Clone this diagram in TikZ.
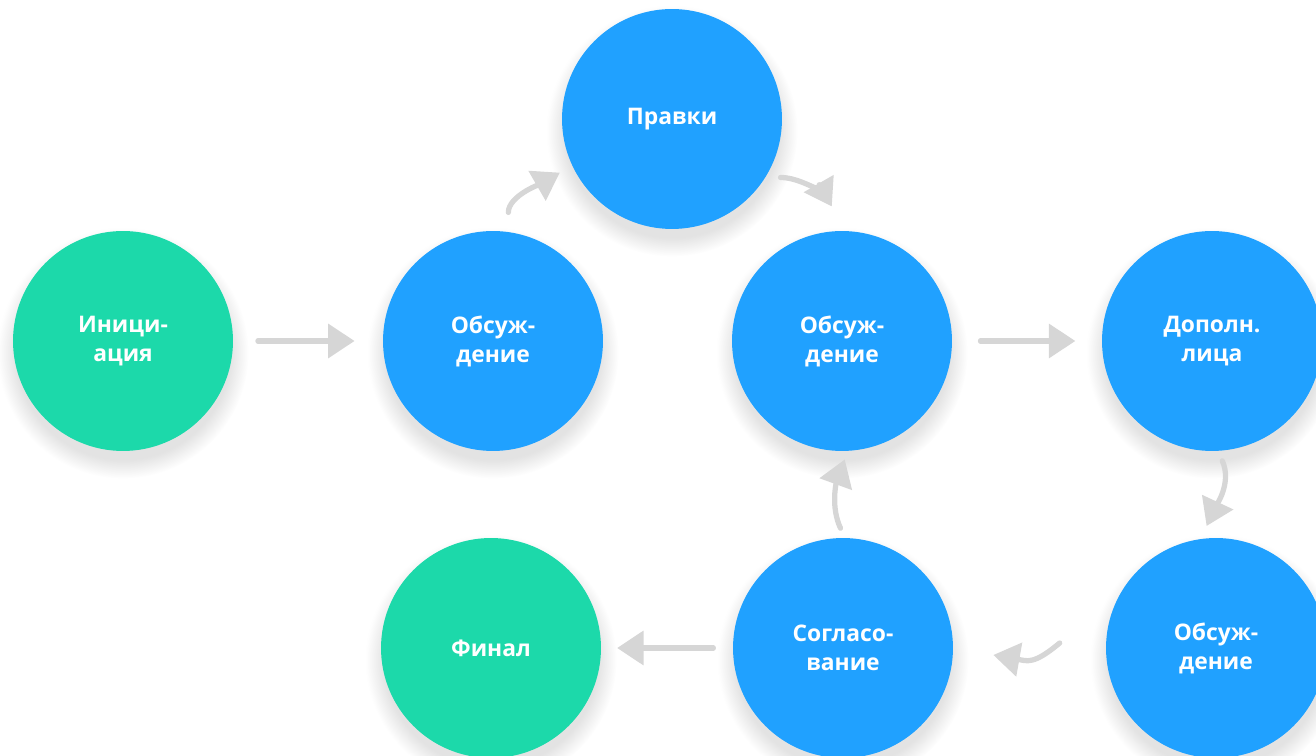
\documentclass[tikz,border=0pt]{standalone}
\usepackage{fontspec}
\setmainfont{Open Sans}
\usetikzlibrary{arrows.meta,shadows}

\definecolor{stageblue}{RGB}{32,161,255}
\definecolor{stagegreen}{RGB}{28,217,170}
\definecolor{flowgray}{RGB}{214,214,214}

\tikzset{
  stage/.style={circle, fill=stageblue, minimum size=4.4cm, inner sep=0pt,
    text=white, align=center, font=\bfseries\fontsize{13}{16.5}\selectfont,
    circular drop shadow={shadow xshift=0pt, shadow yshift=-6pt, shadow scale=1.14, opacity=.22}},
  endstage/.style={stage, fill=stagegreen},
  flow/.style={draw=flowgray, line width=3pt, line cap=round,
    -{Triangle[length=15pt,width=19pt]}}
}

\begin{document}
\begin{tikzpicture}[x=0.02cm, y=-0.02cm]

\clip (0,0) rectangle (1316,756);

% stages
\node[endstage] (ini)  at (123,341)  {Иници-\\ация};
\node[stage]    (obsA) at (493,341)  {Обсуж-\\дение};
\node[stage]    (prav) at (672,119)  {Правки};
\node[stage]    (obsB) at (842,341)  {Обсуж-\\дение};
\node[stage]    (dop)  at (1212,341) {Дополн.\\лица};
\node[stage]    (obsC) at (1216,648) {Обсуж-\\дение};
\node[stage]    (sog)  at (843,648)  {Согласо-\\вание};
\node[endstage] (fin)  at (491,648)  {Финал};

% flow
\draw[flow, shorten <=14pt, shorten >=16pt] (ini.east) -- (obsA.west);
\draw[flow, shorten <=11pt, shorten >=8pt] (obsA.82) to[out=90, in=210] (prav.205);
\draw[flow, shorten <=8.5pt, shorten >=16pt] (prav.-32) to[out=0, in=120] (obsB.88);
\draw[flow, shorten <=16pt, shorten >=15pt] (obsB.east) -- (dop.west);
\draw[flow, shorten <=6pt, shorten >=8pt] (dop.-87) to[out=-65, in=65] (obsC.98);
\draw[flow] ([shift={(-46,-5)}]obsC.west) to[out=220, in=-10, looseness=1.3] ([shift={(40,7)}]sog.east);
\draw[flow, shorten <=6pt, shorten >=5pt] (sog.89) to[out=115, in=250] (obsB.-87);
\draw[flow, shorten <=11pt, shorten >=9pt] (sog.west) -- (fin.east);

\end{tikzpicture}
\end{document}
